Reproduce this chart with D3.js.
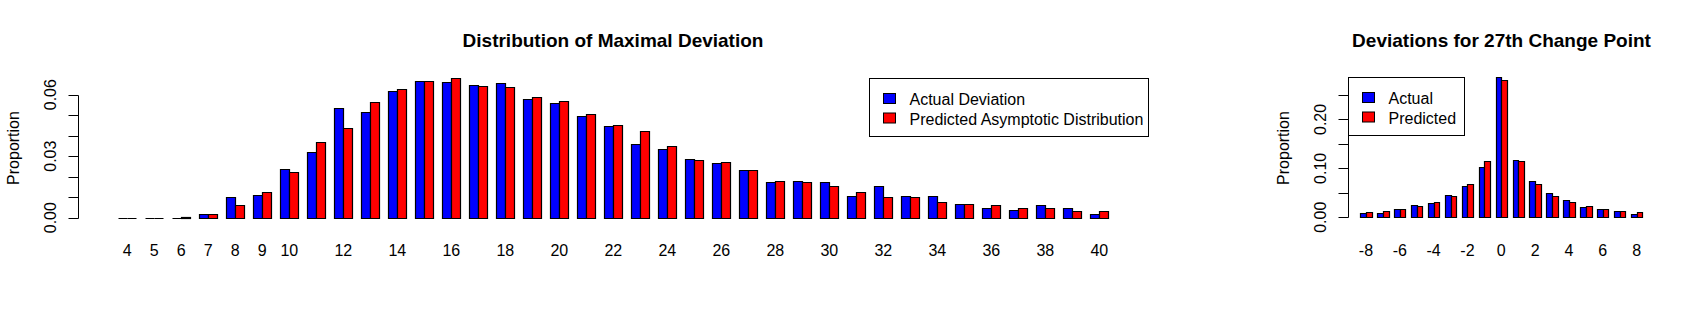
<!DOCTYPE html>
<html>
<head>
<meta charset="utf-8">
<script src="https://cdn.jsdelivr.net/npm/d3@7.9.0/dist/d3.min.js"></script>
<style>
  html, body { margin: 0; padding: 0; background: #fff; }
  svg { display: block; font-family: "Liberation Sans", Arial, sans-serif; }
</style>
</head>
<body>
<svg width="1708" height="318"></svg>
<script>
// left panel: distribution of maximal deviation
const leftCats = [4, 5, 6, 7, 8, 9, 10, 11, 12, 13, 14, 15, 16, 17, 18, 19, 20, 21, 22,
  23, 24, 25, 26, 27, 28, 29, 30, 31, 32, 33, 34, 35, 36, 37, 38, 39, 40];
const leftActual = [0, 0, 0, 0.0016, 0.0102, 0.0113, 0.0239, 0.0322, 0.0536, 0.0516, 0.0618,
  0.0667, 0.0662, 0.0647, 0.0657, 0.0579, 0.056, 0.0497, 0.0448, 0.0361, 0.0337, 0.0288,
  0.0269, 0.0235, 0.0176, 0.0181, 0.0176, 0.0108, 0.0157, 0.0108, 0.0108, 0.0065, 0.0045,
  0.0036, 0.006, 0.0045, 0.0016];
const leftPredicted = [0, 0, 0.0004, 0.0016, 0.006, 0.0123, 0.0225, 0.037, 0.0438, 0.0565, 0.0628,
  0.0667, 0.0681, 0.0642, 0.0638, 0.0589, 0.057, 0.0506, 0.0453, 0.0424, 0.0351, 0.0283,
  0.0273, 0.0235, 0.0181, 0.0172, 0.0157, 0.0123, 0.0099, 0.0099, 0.0079, 0.0065, 0.006,
  0.0045, 0.0045, 0.0031, 0.0031];
const leftLabels = [4, 5, 6, 7, 8, 9, 10, 12, 14, 16, 18, 20, 22, 24, 26, 28, 30, 32, 34, 36, 38, 40];
const leftTicks = [0, 0.01, 0.02, 0.03, 0.04, 0.05, 0.06];
const leftTickLabels = [0, 0.03, 0.06];
const leftLegend = ['Actual Deviation', 'Predicted Asymptotic Distribution'];

// right panel: deviations for the 27th change point
const rightCats = [-8, -7, -6, -5, -4, -3, -2, -1, 0, 1, 2, 3, 4, 5, 6, 7, 8];
const rightActual = [0.0095, 0.0095, 0.017, 0.025, 0.029, 0.0456, 0.064, 0.1027, 0.2864,
  0.117, 0.074, 0.0497, 0.0354, 0.021, 0.017, 0.013, 0.0068];
const rightPredicted = [0.011, 0.013, 0.017, 0.023, 0.031, 0.0435, 0.068, 0.115, 0.280,
  0.115, 0.068, 0.0435, 0.031, 0.023, 0.017, 0.013, 0.011];
const rightLabels = [-8, -6, -4, -2, 0, 2, 4, 6, 8];
const rightTicks = [0, 0.05, 0.10, 0.15, 0.20, 0.25];
const rightTickLabels = [0, 0.10, 0.20];
const rightLegend = ['Actual', 'Predicted'];

const colors = ['#0000ff', '#ff0000'];
const svg = d3.select('svg');

function drawPanel(p) {
  const g = svg.append('g');

  const x = d3.scaleBand()
    .domain(p.cats)
    .range(p.xRange)
    .paddingInner(1 / 3)
    .paddingOuter(1 / 6);
  const sub = d3.scaleBand().domain([0, 1]).range([0, x.bandwidth()]);
  const y = d3.scaleLinear().domain(p.yDomain).range(p.yRange);

  // bars drawn as paths so zero-height bars still show their outline
  const rows = p.cats.map((c, i) => ({ c, vals: [p.actual[i], p.predicted[i]] }));
  rows.forEach((r) => {
    r.vals.forEach((v, k) => {
      const x0 = Math.round(x(r.c) + sub(k)) + 0.5;
      const x1 = Math.round(x(r.c) + sub(k) + sub.bandwidth()) + 0.5;
      const y0 = Math.round(y(0)) + 0.5;
      const y1 = Math.round(y(v)) + 0.5;
      g.append('path')
        .attr('d', `M${x0},${y0}V${y1}H${x1}V${y0}Z`)
        .attr('fill', colors[k])
        .attr('stroke', '#000')
        .attr('stroke-width', 1.2);
    });
  });

  // y axis
  const ax = Math.round(x.range()[0] - x.step() * (p.axisGap)) + 0.5;
  g.append('line')
    .attr('x1', ax).attr('x2', ax)
    .attr('y1', Math.round(y(p.yTicks[0])) + 0.5)
    .attr('y2', Math.round(y(p.yTicks[p.yTicks.length - 1])) + 0.5)
    .attr('stroke', '#000');
  p.yTicks.forEach((t) => {
    const ty = Math.round(y(t)) + 0.5;
    g.append('line')
      .attr('x1', ax - 10).attr('x2', ax)
      .attr('y1', ty).attr('y2', ty)
      .attr('stroke', '#000');
  });
  p.yTickLabels.forEach((t) => {
    g.append('text')
      .attr('transform', `translate(${ax - 23},${y(t)}) rotate(-90)`)
      .attr('text-anchor', 'middle')
      .attr('font-size', 16)
      .text(d3.format('.2f')(t));
  });
  g.append('text')
    .attr('transform', `translate(${ax - 60},${p.ylabY}) rotate(-90)`)
    .attr('text-anchor', 'middle')
    .attr('font-size', 16)
    .text('Proportion');

  // category labels
  p.labels.forEach((l) => {
    g.append('text')
      .attr('x', x(l) + x.bandwidth() / 2)
      .attr('y', 256)
      .attr('text-anchor', 'middle')
      .attr('font-size', 16)
      .text(l);
  });

  // title
  g.append('text')
    .attr('x', p.titleX)
    .attr('y', 46.5)
    .attr('text-anchor', 'middle')
    .attr('font-size', 19)
    .attr('font-weight', 'bold')
    .text(p.title);

  // legend
  const lg = g.append('g').attr('transform', `translate(${p.legend[0]},${p.legend[1]})`);
  lg.append('rect')
    .attr('x', 0.5).attr('y', 0.5)
    .attr('width', p.legend[2]).attr('height', 58)
    .attr('fill', '#fff').attr('stroke', '#000');
  p.legendText.forEach((t, k) => {
    lg.append('rect')
      .attr('x', 14.5).attr('y', 15.5 + k * 19.5)
      .attr('width', 12).attr('height', 10)
      .attr('fill', colors[k]).attr('stroke', '#000');
    lg.append('text')
      .attr('x', 40.5).attr('y', 27 + k * 19.5)
      .attr('font-size', 16)
      .text(t);
  });
}

drawPanel({
  cats: leftCats, actual: leftActual, predicted: leftPredicted,
  labels: leftLabels, yTicks: leftTicks, yTickLabels: leftTickLabels,
  xRange: [113.8, 1112.8], yDomain: [0, 0.06], yRange: [217.7, 94.7],
  axisGap: 1.32, ylabY: 148,
  title: 'Distribution of Maximal Deviation', titleX: 613,
  legend: [869, 78, 279], legendText: leftLegend
});

drawPanel({
  cats: rightCats, actual: rightActual, predicted: rightPredicted,
  labels: rightLabels, yTicks: rightTicks, yTickLabels: rightTickLabels,
  xRange: [1357.5, 1645.1], yDomain: [0, 0.25], yRange: [217.3, 95],
  axisGap: 0.55, ylabY: 148,
  title: 'Deviations for 27th Change Point', titleX: 1501.5,
  legend: [1348, 77, 116], legendText: rightLegend
});
</script>
</body>
</html>
